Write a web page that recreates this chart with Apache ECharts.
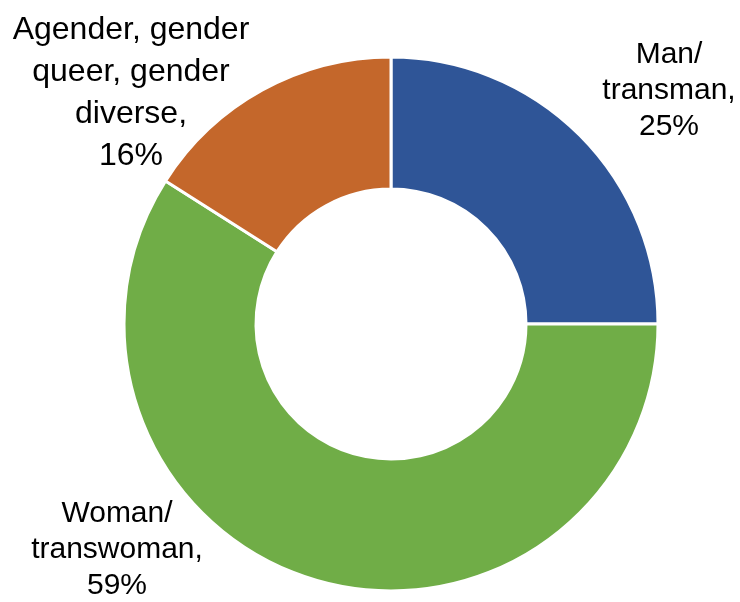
<!DOCTYPE html>
<html>
<head>
<meta charset="utf-8">
<script src="https://cdn.jsdelivr.net/npm/echarts@6/dist/echarts.min.js"></script>
<style>
  html, body { margin: 0; padding: 0; background: #fff; }
  #main { width: 740px; height: 602px; }
</style>
</head>
<body>
<div id="main"></div>
<script>
'use strict'
// gender identity donut

var categories = ['Man/\ntransman,', 'Woman/\ntranswoman,', 'Agender, gender\nqueer, gender\ndiverse,'];
var shares = [25, 59, 16];
var colors = ['#2F5597', '#70AD47', '#C4672B'];

// label anchor spots (center of each text block)
var labelSpots = [[669, 91], [117, 550], [131, 93]];
var labelSizes = [30, 30, 32];
var labelLines = [36, 36, 42];

var pieData = categories.map(function (name, i) {
    return {
        name: name,
        value: shares[i],
        itemStyle: { color: colors[i] },
        label: { fontSize: labelSizes[i], lineHeight: labelLines[i] }
    };
});

var option = {
    animation: false,
    series: [
        {
            type: 'pie',
            center: [391, 324],
            radius: [135, 267],
            startAngle: 90,
            clockwise: true,
            itemStyle: {
                borderColor: '#fff',
                borderWidth: 3
            },
            label: {
                show: true,
                position: 'outside',
                formatter: function (p) {
                    return p.name + '\n' + p.value + '%';
                },
                fontFamily: 'Liberation Sans, Arial, sans-serif',
                color: '#000',
                align: 'center',
                overflow: 'none'
            },
            labelLine: { show: false },
            labelLayout: function (params) {
                var s = labelSpots[params.dataIndex];
                return {
                    x: s[0],
                    y: s[1],
                    align: 'center',
                    verticalAlign: 'middle'
                };
            },
            data: pieData
        }
    ]
};

var myChart = echarts.init(document.getElementById('main'));
myChart.setOption(option);
</script>
</body>
</html>
